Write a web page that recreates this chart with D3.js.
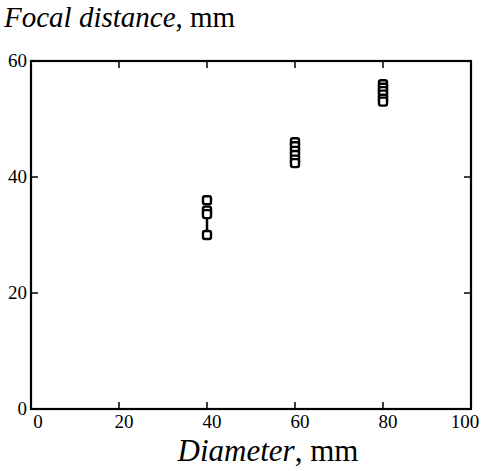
<!DOCTYPE html>
<html>
<head>
<meta charset="utf-8">
<script src="https://cdn.jsdelivr.net/npm/d3@7"></script>
<style>
  body { margin: 0; background: #fff; }
  text { font-family: "Liberation Serif", "DejaVu Serif", serif; fill: #000; }
</style>
</head>
<body>
<div id="chart"></div>
<script>
// data
const diameters = [40, 40, 40, 40, 60, 60, 60, 60, 60, 60, 80, 80, 80, 80, 80, 80];
const focal = [36, 34.2, 33.6, 30, 46, 45.3, 44.5, 43.8, 43, 42.4, 56, 55.4, 54.8, 54.2, 53.5, 53];
const xTicks = [0, 20, 40, 60, 80, 100];
const yTicks = [0, 20, 40, 60];

const width = 482, height = 471;
const margin = {left: 31, right: 11, top: 61, bottom: 62};

const svg = d3.select('#chart').append('svg')
  .attr('width', width)
  .attr('height', height);

const x = d3.scaleLinear().domain([0, 100]).range([margin.left, width - margin.right]);
const y = d3.scaleLinear().domain([0, 60]).range([height - margin.bottom, margin.top]);

// frame
svg.append('rect')
  .attr('x', x(0))
  .attr('y', y(60))
  .attr('width', x(100) - x(0))
  .attr('height', y(0) - y(60))
  .attr('fill', 'none')
  .attr('stroke', '#000')
  .attr('stroke-width', 2.2);

// inward ticks
const tk = 7;
svg.append('g').selectAll('line.bt')
  .data(xTicks.slice(1, -1)).enter().append('line')
  .attr('x1', d => x(d)).attr('x2', d => x(d))
  .attr('y1', y(0)).attr('y2', y(0) - tk)
  .attr('stroke', '#000').attr('stroke-width', 1.5);
svg.append('g').selectAll('line.tt')
  .data(xTicks.slice(1, -1)).enter().append('line')
  .attr('x1', d => x(d)).attr('x2', d => x(d))
  .attr('y1', y(60)).attr('y2', y(60) + tk)
  .attr('stroke', '#000').attr('stroke-width', 1.5);
svg.append('g').selectAll('line.lt')
  .data(yTicks.slice(1, -1)).enter().append('line')
  .attr('x1', x(0)).attr('x2', x(0) + tk)
  .attr('y1', d => y(d)).attr('y2', d => y(d))
  .attr('stroke', '#000').attr('stroke-width', 1.5);
svg.append('g').selectAll('line.rt')
  .data(yTicks.slice(1, -1)).enter().append('line')
  .attr('x1', x(100)).attr('x2', x(100) - tk)
  .attr('y1', d => y(d)).attr('y2', d => y(d))
  .attr('stroke', '#000').attr('stroke-width', 1.5);

// tick labels
svg.append('g').selectAll('text')
  .data(xTicks).enter().append('text')
  .attr('x', d => x(d) + (d === 100 ? -6 : (d === 0 ? 7 : 5)))
  .attr('y', y(0) + 19)
  .attr('text-anchor', 'middle')
  .style('font-size', '19px')
  .text(d => d);
svg.append('g').selectAll('text')
  .data(yTicks).enter().append('text')
  .attr('x', x(0) - 4)
  .attr('y', d => y(d) + 6)
  .attr('text-anchor', 'end')
  .style('font-size', '19px')
  .text(d => d);

// range line at 40
svg.append('line')
  .attr('x1', x(40)).attr('x2', x(40))
  .attr('y1', y(34)).attr('y2', y(30))
  .attr('stroke', '#000').attr('stroke-width', 2.5);

// markers
const s = 8;
svg.append('g').selectAll('rect')
  .data(diameters.map((d, i) => [d, focal[i]])).enter().append('rect')
  .attr('x', d => x(d[0]) - s / 2)
  .attr('y', d => y(d[1]) - s / 2)
  .attr('width', s).attr('height', s)
  .attr('rx', 2)
  .attr('fill', '#fff')
  .attr('stroke', '#000')
  .attr('stroke-width', 2.4);

// titles
const yt = svg.append('text')
  .attr('x', 4).attr('y', 27)
  .style('font-size', '29px');
yt.append('tspan').style('font-style', 'italic').text('Focal distance');
yt.append('tspan').text(', mm');

const xt = svg.append('text')
  .attr('x', 268).attr('y', 461)
  .attr('text-anchor', 'middle')
  .style('font-size', '31px');
xt.append('tspan').style('font-style', 'italic').text('Diameter');
xt.append('tspan').text(', mm');
</script>
</body>
</html>
